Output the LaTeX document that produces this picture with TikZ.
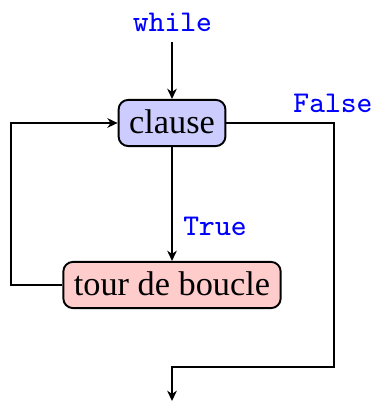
\documentclass[tikz,border=0pt]{standalone}
\usepackage{fontspec}
\setmainfont{Liberation Serif}
\usetikzlibrary{arrows.meta}
\tikzset{
  box/.style={draw=black, semithick, rounded corners=3pt, inner sep=3.3pt, text height=7.3pt, text depth=0.5pt, font=\fontsize{10.7pt}{13pt}\selectfont},
  lbl/.style={text=blue, font=\fontsize{9.4pt}{11pt}\ttfamily, inner sep=0pt},
  arr/.style={semithick, -{Stealth[length=3.2pt,width=3pt,inset=1pt]}}
}
\begin{document}
\begin{tikzpicture}[x=0.312pt,y=-0.312pt]
\useasboundingbox (0,0) rectangle (374,403);
\node[lbl] (while) at (172.5,22) {while};
\node[box, fill=blue!20] (clause) at (172,123) {clause};
\node[box, fill=red!20] (tour) at (172,285) {tour de boucle};
\node[lbl] (false) at (333,103) {False};
\node[lbl] (true) at (215,226) {True};
\coordinate (top) at (172,42);
\coordinate (r1) at (334,367);
\coordinate (r2) at (172,367);
\coordinate (endp) at (172,401);
\coordinate (l1) at (11,285);
\draw[arr] (top) -- (clause.north);
\draw[arr] (clause.south) -- (tour.north);
\draw[arr] (tour.west) -- (l1) |- (clause.west);
\draw[arr] (clause.east) -| (r1) -- (r2) -- (endp);
\end{tikzpicture}
\end{document}
